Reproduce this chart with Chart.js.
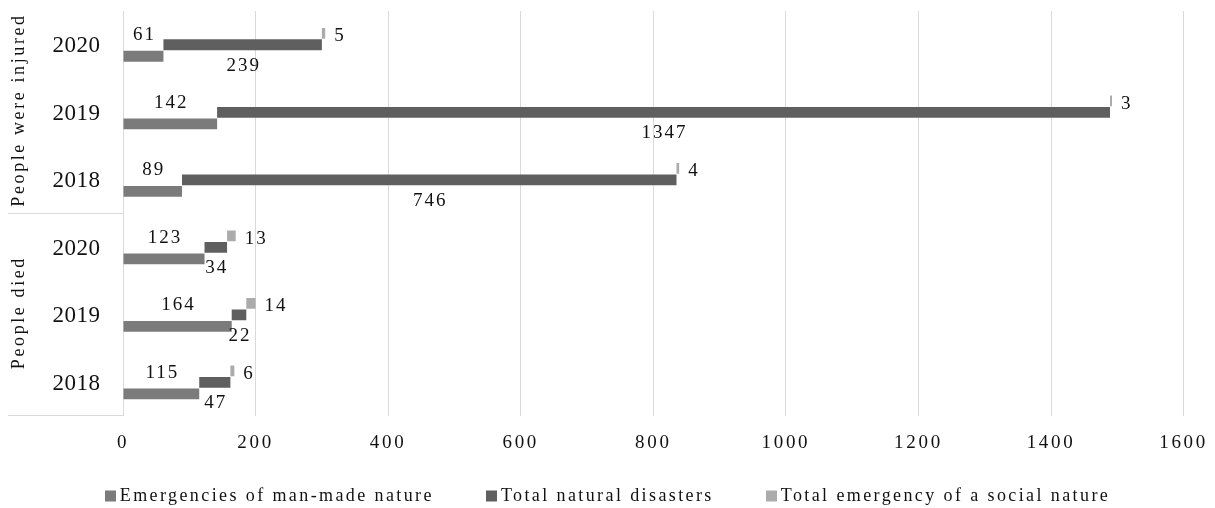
<!DOCTYPE html>
<html><head><meta charset="utf-8">
<script src="https://cdn.jsdelivr.net/npm/chart.js@4.4.1/dist/chart.umd.min.js"></script>
<style>html,body{margin:0;padding:0;background:#fff;overflow:hidden}</style>
</head><body>
<canvas id="c" width="1215" height="508"></canvas>
<script>
// ---- data ----
const groups = ['People were injured', 'People died'];
const years = ['2020', '2019', '2018'];
const seriesNames = ['Emergencies of man-made nature', 'Total natural disasters', 'Total emergency of a social nature'];
// category order (top to bottom): injured 2020, 2019, 2018, died 2020, 2019, 2018
const manMade = [61, 142, 89, 123, 164, 115];
const naturalDis = [239, 1347, 746, 34, 22, 47];
const socialEm = [5, 3, 4, 13, 14, 6];
const xTicks = [0, 200, 400, 600, 800, 1000, 1200, 1400, 1600];

// ---- styles ----
const colManMade = '#7b7b7b', colNatural = '#5f5f5f', colSocial = '#ababab';
const FONT = 'Liberation Serif';
const TXT = '#111111';

const labels = groups.flatMap(() => years.slice());

// floating segments so each series sits in its own slot while continuing the sum
const socialSeg = socialEm.map((v, i) => [manMade[i] + naturalDis[i], manMade[i] + naturalDis[i] + v]);
const naturalSeg = naturalDis.map((v, i) => [manMade[i], manMade[i] + v]);
const manMadeSeg = manMade.map(v => [0, v]);

function drawText(ctx, str, x, y, size, spacing, align) {
  ctx.save();
  ctx.font = size + 'px "' + FONT + '"';
  ctx.letterSpacing = spacing + 'px';
  ctx.textAlign = align || 'center';
  ctx.textBaseline = 'middle';
  ctx.fillStyle = TXT;
  let dx = 0;
  if (ctx.textAlign === 'center') dx = spacing / 2;
  if (ctx.textAlign === 'right') dx = spacing;
  ctx.fillText(str, x + dx, y);
  ctx.restore();
}

const spacingPlugin = {
  id: 'spacing',
  beforeUpdate(chart) { chart.ctx.letterSpacing = '2.7px'; },
  beforeDraw(chart) { chart.ctx.letterSpacing = '2.7px'; }
};

const annotPlugin = {
  id: 'annot',
  afterDraw(chart) {
    const ctx = chart.ctx;
    const ys = chart.scales.y;
    const area = chart.chartArea;

    // year labels
    labels.forEach((l, i) => {
      drawText(ctx, l, area.left - 23, ys.getPixelForValue(i) + 1.5, 23, 0.5, 'right');
    });

    // group labels + separators
    ctx.save();
    ctx.strokeStyle = '#d9d9d9';
    ctx.lineWidth = 1;
    groups.forEach((g, gi) => {
      const y0 = ys.getPixelForValue(gi * 3), y1 = ys.getPixelForValue(gi * 3 + 2);
      const yc = (y0 + y1) / 2 - 1;
      ctx.save();
      ctx.translate(19, yc);
      ctx.rotate(-Math.PI / 2);
      drawText(ctx, g, 0, 0, 18, 2.6, 'center');
      ctx.restore();
      const yb = Math.round(ys.getPixelForValue(gi * 3 + 2.5)) - 0.5;
      ctx.beginPath();
      ctx.moveTo(8, yb);
      ctx.lineTo(area.left, yb);
      ctx.stroke();
    });
    ctx.restore();

    // data labels
    const metaSoc = chart.getDatasetMeta(0), metaNat = chart.getDatasetMeta(1), metaMM = chart.getDatasetMeta(2);
    manMade.forEach((v, i) => {
      const e = metaMM.data[i];
      drawText(ctx, String(v), (e.x + e.base) / 2, e.y - 21, 19, 2, 'center');
    });
    naturalDis.forEach((v, i) => {
      const e = metaNat.data[i];
      drawText(ctx, String(v), (e.x + e.base) / 2, e.y + 21, 19, 2, 'center');
    });
    socialEm.forEach((v, i) => {
      const e = metaSoc.data[i];
      drawText(ctx, String(v), e.x + 9, e.y + 3, 19, 2, 'left');
    });

    // legend
    const items = [
      { t: seriesNames[0], c: colManMade },
      { t: seriesNames[1], c: colNatural },
      { t: seriesNames[2], c: colSocial }
    ];
    const sq = 11, gapBox = 4, gapItem = 52, lsize = 18, lsp = 2.4, ly = 496;
    ctx.save();
    ctx.font = lsize + 'px "' + FONT + '"';
    ctx.letterSpacing = lsp + 'px';
    const widths = items.map(it => ctx.measureText(it.t).width);
    ctx.restore();
    const total = widths.reduce((a, w) => a + sq + gapBox + w, 0) + gapItem * (items.length - 1);
    let x = (chart.width - total) / 2;
    items.forEach((it, k) => {
      ctx.save();
      ctx.fillStyle = it.c;
      ctx.fillRect(Math.round(x), ly - 5.5, sq, sq);
      ctx.restore();
      drawText(ctx, it.t, x + sq + gapBox, ly, lsize, lsp, 'left');
      x += sq + gapBox + widths[k] + gapItem;
    });
  }
};

new Chart(document.getElementById('c'), {
  type: 'bar',
  data: {
    labels: labels,
    datasets: [
      { label: seriesNames[2], data: socialSeg, backgroundColor: colSocial },
      { label: seriesNames[1], data: naturalSeg, backgroundColor: colNatural },
      { label: seriesNames[0], data: manMadeSeg, backgroundColor: colManMade }
    ]
  },
  options: {
    indexAxis: 'y',
    responsive: false,
    animation: false,
    devicePixelRatio: 1,
    datasets: { bar: { categoryPercentage: 0.51, barPercentage: 0.94 } },
    layout: { padding: { top: 11, right: 31, bottom: 47, left: 0 } },
    plugins: { legend: { display: false }, tooltip: { enabled: false } },
    scales: {
      x: {
        min: xTicks[0],
        max: xTicks[xTicks.length - 1],
        ticks: {
          stepSize: xTicks[1] - xTicks[0],
          font: { family: FONT, size: 19 },
          color: TXT,
          padding: 7,
          maxRotation: 0,
          autoSkip: false,
          callback: (v) => String(v)
        },
        grid: { color: '#d9d9d9', drawTicks: true, tickLength: 8, tickColor: 'rgba(0,0,0,0)', lineWidth: 1 },
        border: { display: false }
      },
      y: {
        ticks: { display: false },
        grid: { display: false },
        border: { display: false },
        afterFit(s) { s.width = 123; }
      }
    }
  },
  plugins: [spacingPlugin, annotPlugin]
});
</script>
</body></html>
